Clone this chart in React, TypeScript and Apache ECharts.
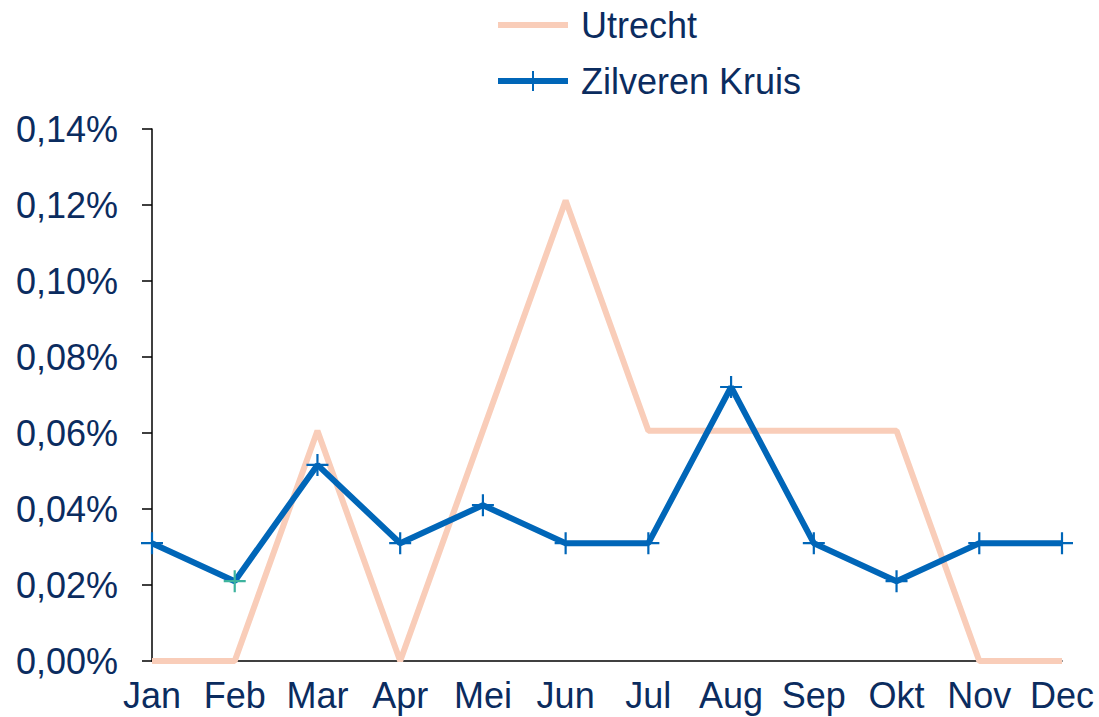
import React, { useEffect, useRef } from "react";
import * as echarts from "echarts";

const months = ["Jan", "Feb", "Mar", "Apr", "Mei", "Jun", "Jul", "Aug", "Sep", "Okt", "Nov", "Dec"];
const utrecht = [0, 0, 0.0606, 0, 0.0606, 0.1212, 0.0606, 0.0606, 0.0606, 0.0606, 0, 0];
const zilverenKruis = [0.031, 0.021, 0.0516, 0.031, 0.041, 0.031, 0.031, 0.0721, 0.031, 0.021, 0.031, 0.031];
const seriesNames = ["Utrecht", "Zilveren Kruis"];

const TEXT = "#0B2C5F";
const PEACH = "#F9CDB9";
const BLUE = "#0066B8";
const PLUS = "path://M0,9H20V11H0Z M9,0H11V20H9Z";
const LEG_LINE = "path://M0,0H0.01V0.01H0Z M0,7H70V13H0Z M69.99,19.99H70V20H69.99Z";
const LEG_PLUS = "path://M0,0H0.01V0.01H0Z M0,7H70V13H0Z M34,0H36V20H34Z M69.99,19.99H70V20H69.99Z";

export default function App() {
  const ref = useRef<HTMLDivElement>(null);
  useEffect(() => {
    document.body.style.margin = "0";
    const chart = echarts.init(ref.current!, undefined, { renderer: "svg" });
    chart.setOption({
      animation: false,
      textStyle: { fontFamily: "Liberation Sans, Arial, sans-serif", color: TEXT },
      grid: { left: 152, right: 37, top: 129, bottom: 56 },
      legend: {
        orient: "vertical",
        left: 493,
        top: 2,
        itemWidth: 70,
        itemHeight: 20,
        itemGap: 20,
        textStyle: { fontSize: 36, color: TEXT, padding: [0, 0, 0, 8] },
        data: [
          { name: seriesNames[0], icon: LEG_LINE, itemStyle: { color: PEACH } },
          { name: seriesNames[1], icon: LEG_PLUS, itemStyle: { color: BLUE } },
        ],
      },
      xAxis: {
        type: "category",
        data: months,
        boundaryGap: false,
        axisLine: { lineStyle: { color: "#000", width: 1.5 } },
        axisTick: { show: false },
        axisLabel: { fontSize: 36, color: TEXT, margin: 16, interval: 0 },
      },
      yAxis: {
        type: "value",
        min: 0,
        max: 0.14,
        interval: 0.02,
        splitLine: { show: false },
        axisLine: { show: true, lineStyle: { color: "#000", width: 1.5 } },
        axisTick: { show: true, length: 10, lineStyle: { color: "#000", width: 1.5 } },
        axisLabel: {
          fontSize: 36,
          color: TEXT,
          margin: 34,
          formatter: (v: number) => v.toFixed(2).replace(".", ",") + "%",
        },
      },
      series: [
        {
          name: seriesNames[0],
          type: "line",
          data: utrecht,
          showSymbol: false,
          symbol: "none",
          lineStyle: { color: PEACH, width: 6 },
          itemStyle: { color: PEACH },
        },
        {
          name: seriesNames[1],
          type: "line",
          data: zilverenKruis.map((v, i) =>
            i === 1 ? { value: v, itemStyle: { color: "#3DB39E" } } : v
          ),
          symbol: PLUS,
          symbolSize: 22,
          lineStyle: { color: BLUE, width: 6 },
          itemStyle: { color: BLUE },
        },
      ],
    });
    return () => chart.dispose();
  }, []);
  return <div ref={ref} style={{ position: "absolute", left: 0, top: 0, width: 1099, height: 717 }} />;
}
